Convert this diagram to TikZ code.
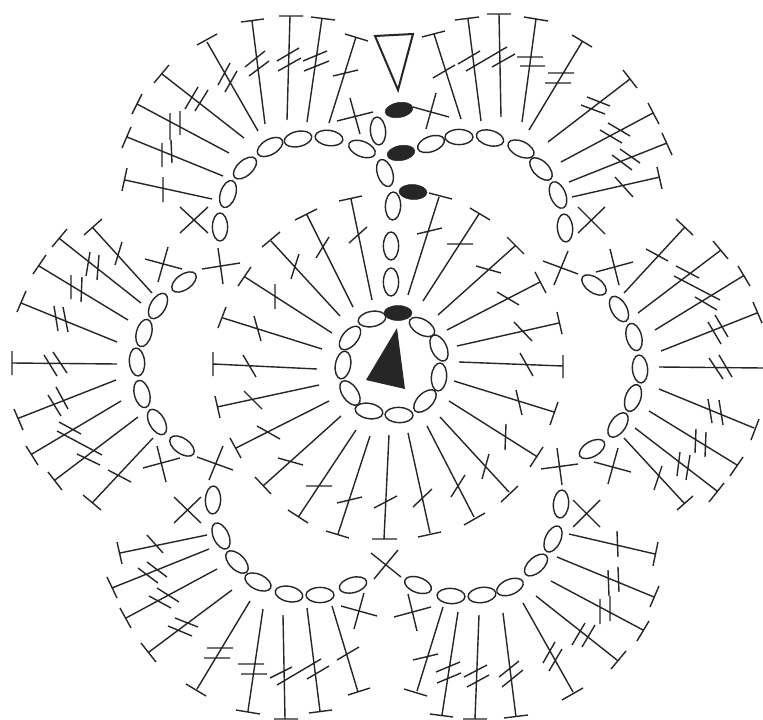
\documentclass[tikz,border=0pt]{standalone}
\definecolor{ink}{HTML}{262626}
\tikzset{
  ln/.style={draw=ink,line width=1.4pt},
  outline/.style={draw=ink,line width=2pt,line join=miter},
  chainloop/.style={draw=ink,line width=1.4pt},
  slip/.style={fill=ink,draw=ink,line width=.5pt}
}
\newcommand\ov[2]{\draw[chainloop,rotate around={#2:(#1)}] (#1) ellipse [x radius=14pt,y radius=7.6pt];}
\newcommand\fv[2]{\draw[slip,rotate around={#2:(#1)}] (#1) ellipse [x radius=14pt,y radius=7.5pt];}
\begin{document}
\begin{tikzpicture}[x=1pt,y=-1pt]
\useasboundingbox (0,0) rectangle (763,720);
\fill[white] (0,0) rectangle (763,720);
% chain loops
\foreach \p/\a in {{228,194}/72,{245,168}/42,{270,147}/30,{298,139}/12,{329,138}/-8,{362,149}/-22,{378,131}/-85,{385,173}/-72,{393,206}/88,{391,246}/90,{391,282}/90,{431,144}/20,{459,137}/0,{490,138}/-15,{521,149}/-25,{541,169}/-45,{558,195}/-68,{565,228}/-85,{220,227}/90,
{184,282}/35,{158,306}/60,{144,333}/75,{137,362}/-85,{142,394}/-75,{157,422}/-60,{182,446}/-35,
{594,285}/-35,{619,309}/-60,{634,337}/-75,{640,369}/-85,{633,398}/70,{618,425}/55,{592,449}/30,
{213,500}/88,{221,536}/-65,{237,562}/-45,{258,582}/-25,{289,594}/-12,{320,595}/0,{353,585}/15,
{418,585}/-20,{451,596}/-3,{482,595}/8,{510,587}/22,{536,565}/42,{553,539}/65,{561,504}/85,
{372,319}/10,{350,338}/50,{343,365}/80,{350,393}/-55,{369,411}/-10,{399,415}/-2,{425,401}/45,{439,377}/85,{439,348}/-65,{422,327}/-30}{\ov{\p}{\a}}
% slip stitches
\fv{399,110}{10}\fv{401,153}{10}\fv{413,192}{-3}\fv{398,313}{0}
% triangles
\draw[outline] (375,36) -- (413,34) -- (398,90) -- cycle;
\fill[ink] (397,328) -- (405,389) -- (366,380) -- cycle;
% single crochet crosses
\draw[ln] (350,98)--(360,134) (337,121)--(373,112);
\draw[ln] (413,107)--(449,117) (436,93)--(426,129);
\draw[ln] (180,207)--(208,233) (208,207)--(180,233);
\draw[ln] (578,207)--(605,234) (605,207)--(578,233);
\draw[ln] (168,247)--(158,282) (145,259)--(182,269);
\draw[ln] (218,248)--(223,284) (202,269)--(240,263);
\draw[ln] (223,446)--(209,480) (197,457)--(233,470);
\draw[ln] (157,446)--(166,482) (143,468)--(180,458);
\draw[ln] (174,497)--(201,523) (201,497)--(174,523);
\draw[ln] (568,251)--(554,285) (543,261)--(578,274);
\draw[ln] (610,249)--(619,285) (596,272)--(633,262);
\draw[ln] (557,448)--(562,485) (541,469)--(578,464);
\draw[ln] (618,448)--(608,484) (594,462)--(631,472);
\draw[ln] (573,500)--(600,527) (600,500)--(573,527);
\draw[ln] (364,593)--(354,629) (341,606)--(377,616);
\draw[ln] (408,594)--(417,631) (394,617)--(431,607);
\draw[ln] (371,553)--(401,577) (398,550)--(374,579);
% top petal, left
\draw[ln] (212,199)--(125,180) (127,168)--(122,191) (163,177)--(163,202);
\draw[ln] (223,176)--(127,137) (131,127)--(122,148) (162,143)--(162,167) (171,140)--(172,163);
\draw[ln] (229,153)--(137,104) (142,94)--(132,114) (170,113)--(170,140) (180,111)--(180,135);
\draw[ln] (244,138)--(162,74) (169,65)--(154,83) (198,87)--(185,109) (208,90)--(195,111);
\draw[ln] (258,131)--(207,42) (217,34)--(197,45) (230,63)--(218,85) (237,71)--(225,92);
\draw[ln] (265,124)--(252,21) (264,19)--(241,22) (265,51)--(245,67) (269,61)--(249,76);
\draw[ln] (287,120)--(290,16) (303,16)--(279,16) (299,48)--(277,61) (301,58)--(278,71);
\draw[ln] (307,122)--(322,18) (335,20)--(311,17) (327,51)--(303,61) (329,61)--(304,71);
\draw[ln] (329,123)--(356,37) (368,41)--(345,34) (358,70)--(333,76);
% top petal, right
\draw[ln] (461,119)--(434,34) (445,31)--(422,37) (455,65)--(433,78);
\draw[ln] (481,121)--(468,19) (479,17)--(455,20) (480,51)--(458,64);
\draw[ln] (501,117)--(499,14) (511,14)--(487,14) (507,47)--(466,71) (515,54)--(492,67);
\draw[ln] (522,122)--(536,19) (548,21)--(524,17) (517,57)--(543,57) (520,66)--(545,66);
\draw[ln] (529,130)--(582,42) (592,47)--(572,35) (548,73)--(574,73) (545,83)--(571,83);
\draw[ln] (548,142)--(630,79) (637,88)--(623,70) (587,97)--(610,106) (581,105)--(605,114);
\draw[ln] (561,162)--(653,113) (659,124)--(648,103) (608,123)--(630,136) (600,130)--(622,143);
\draw[ln] (569,182)--(667,143) (672,155)--(662,133) (620,149)--(640,163) (612,155)--(632,170);
\draw[ln] (572,197)--(660,177) (657,167)--(662,189) (615,177)--(633,197);
% left petal
\draw[ln] (152,293)--(93,228) (102,219)--(84,235) (122,242)--(115,265);
\draw[ln] (141,303)--(60,239) (67,229)--(52,247) (90,252)--(86,276) (99,255)--(97,280);
\draw[ln] (128,320)--(39,266) (46,255)--(33,274) (71,275)--(71,299) (82,277)--(81,302);
\draw[ln] (117,342)--(21,303) (26,291)--(17,312) (54,306)--(58,331) (63,307)--(68,332);
\draw[ln] (117,364)--(12,363) (12,351)--(12,375) (44,355)--(57,376) (53,352)--(67,373);
\draw[ln] (116,380)--(19,418) (14,409)--(23,430) (56,387)--(68,409) (48,395)--(61,416);
\draw[ln] (121,401)--(32,454) (26,446)--(38,465) (59,422)--(81,434) (57,431)--(102,455);
\draw[ln] (138,417)--(55,480) (48,472)--(62,490) (77,454)--(100,465);
\draw[ln] (153,438)--(93,502) (83,495)--(101,510) (108,470)--(131,482);
% right petal
\draw[ln] (624,293)--(684,228) (676,219)--(693,235) (646,249)--(668,261);
\draw[ln] (638,313)--(721,250) (713,241)--(728,259) (676,266)--(699,278) (674,276)--(720,300);
\draw[ln] (655,330)--(743,276) (738,266)--(750,286) (695,297)--(717,310);
\draw[ln] (661,351)--(757,313) (753,302)--(762,323) (715,315)--(728,337) (708,322)--(721,344);
\draw[ln] (659,367)--(763,368) (709,358)--(723,379) (719,355)--(732,377);
\draw[ln] (659,389)--(754,428) (759,419)--(751,440) (708,399)--(712,423) (719,400)--(723,425);
\draw[ln] (649,411)--(737,465) (743,457)--(730,476) (696,429)--(695,453) (706,432)--(705,457);
\draw[ln] (635,428)--(717,491) (724,483)--(709,502) (680,452)--(677,476) (690,455)--(686,480);
\draw[ln] (624,438)--(684,503) (693,496)--(677,510) (662,466)--(654,490);
% bottom left petal
\draw[ln] (207,535)--(120,553) (117,542)--(122,564) (147,535)--(163,553);
\draw[ln] (209,549)--(112,588) (107,577)--(117,598) (147,562)--(167,577) (138,568)--(158,583);
\draw[ln] (217,569)--(126,618) (120,608)--(131,628) (157,588)--(179,602) (149,596)--(171,608);
\draw[ln] (232,590)--(149,652) (141,643)--(156,662) (175,618)--(198,627) (168,626)--(192,636);
\draw[ln] (250,601)--(197,689) (186,684)--(206,696) (207,648)--(233,648) (204,658)--(230,658);
\draw[ln] (263,609)--(248,711) (236,710)--(260,714) (238,664)--(264,664) (241,674)--(267,674);
\draw[ln] (283,615)--(285,719) (274,719)--(298,719) (292,667)--(270,678) (321,659)--(277,685);
\draw[ln] (307,608)--(320,711) (332,710)--(309,713) (329,666)--(307,679);
\draw[ln] (332,606)--(358,692) (370,688)--(348,695) (359,647)--(337,660);
% bottom right petal
\draw[ln] (443,607)--(417,691) (427,696)--(404,689) (438,654)--(413,660);
\draw[ln] (458,612)--(442,715) (453,717)--(430,714) (460,662)--(436,672) (461,673)--(437,683);
\draw[ln] (479,615)--(475,719) (487,719)--(463,719) (487,665)--(464,677) (489,675)--(467,687);
\draw[ln] (503,613)--(516,717) (528,715)--(504,718) (519,661)--(499,677) (523,670)--(502,687);
\draw[ln] (523,603)--(573,692) (583,688)--(562,700) (555,642)--(543,663) (562,649)--(549,671);
\draw[ln] (536,596)--(617,660) (626,651)--(611,669) (585,623)--(572,645) (595,625)--(582,647);
\draw[ln] (551,581)--(643,630) (649,621)--(637,641) (600,599)--(600,624) (610,596)--(610,621);
\draw[ln] (557,557)--(654,597) (659,586)--(650,607) (608,570)--(609,596) (618,567)--(619,592);
\draw[ln] (569,534)--(655,554) (658,542)--(653,566) (617,531)--(618,557);
% inner ring stitches
\draw[ln] (372,300)--(351,199) (362,196)--(339,201) (367,227)--(349,243);
\draw[ln] (353,307)--(307,215) (317,209)--(295,220) (329,237)--(316,258);
\draw[ln] (340,316)--(271,241) (280,232)--(262,247) (299,254)--(291,279);
\draw[ln] (332,333)--(245,277) (251,267)--(238,286) (275,284)--(275,309);
\draw[ln] (322,349)--(223,318) (226,307)--(218,328) (254,316)--(261,341);
\draw[ln] (317,369)--(213,364) (213,352)--(213,376) (243,355)--(256,377);
\draw[ln] (408,295)--(439,197) (429,193)--(452,199) (442,228)--(417,234);
\draw[ln] (423,301)--(479,214) (490,220)--(470,208) (473,244)--(447,244);
\draw[ln] (438,315)--(515,246) (524,254)--(507,237) (501,273)--(476,266);
\draw[ln] (447,330)--(540,282) (546,293)--(535,272) (519,305)--(497,292);
\draw[ln] (457,346)--(559,323) (562,334)--(557,312) (532,341)--(514,322);
\draw[ln] (459,362)--(563,366) (563,355)--(563,378) (533,376)--(520,353);
\draw[ln] (319,385)--(217,407) (215,396)--(220,418) (244,391)--(262,409);
\draw[ln] (329,401)--(236,448) (230,438)--(241,458) (257,426)--(280,439);
\draw[ln] (341,416)--(263,486) (255,477)--(271,494) (278,458)--(303,465);
\draw[ln] (356,430)--(299,516) (288,510)--(308,523) (306,486)--(332,486);
\draw[ln] (370,436)--(338,534) (326,531)--(349,538) (362,497)--(337,503);
\draw[ln] (389,435)--(384,539) (372,539)--(397,539) (397,496)--(374,508);
\draw[ln] (408,433)--(430,533) (441,532)--(418,537) (432,489)--(413,507);
\draw[ln] (427,426)--(474,517) (485,513)--(464,525) (465,475)--(451,497);
\draw[ln] (440,417)--(509,492) (518,486)--(501,502) (489,454)--(482,479);
\draw[ln] (449,401)--(536,456) (543,447)--(530,467) (506,424)--(505,450);
\draw[ln] (454,381)--(554,412) (558,402)--(550,425) (516,390)--(522,415);
\end{tikzpicture}
\end{document}
